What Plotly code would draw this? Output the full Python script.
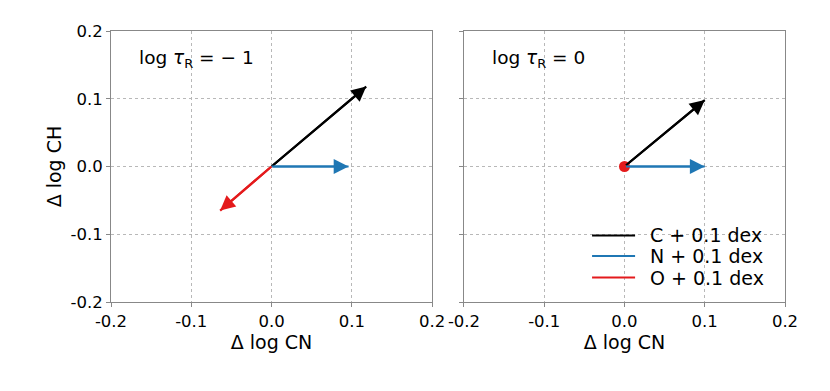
import plotly.graph_objects as go

# Data: change in (log CN, log CH) for +0.1 dex of each element
elements = ["C", "N", "O"]
legend_labels = ["C + 0.1 dex", "N + 0.1 dex", "O + 0.1 dex"]
colors = ["black", "#1f77b4", "#e41a1c"]

panel_titles = ["log <i>τ</i><sub>R</sub> = − 1", "log <i>τ</i><sub>R</sub> = 0"]
# panel 1: log tau_R = -1
dCN_p1 = [0.118, 0.096, -0.064]
dCH_p1 = [0.118, 0.0, -0.065]
# panel 2: log tau_R = 0
dCN_p2 = [0.100, 0.100, 0.0]
dCH_p2 = [0.098, 0.0, 0.0]

tick_vals = [-0.2, -0.1, 0.0, 0.1, 0.2]
tick_text = ["-0.2", "-0.1", "0.0", "0.1", "0.2"]

FONT = "DejaVu Sans"
fig = go.Figure()
annotations = []
shapes = []

panels = [(dCN_p1, dCH_p1, "x", "y"), (dCN_p2, dCH_p2, "x2", "y2")]
for pi, (dxs, dys, xa, ya) in enumerate(panels):
    for i, el in enumerate(elements):
        dx, dy = dxs[i], dys[i]
        fig.add_trace(go.Scatter(
            x=[0, dx], y=[0, dy], mode="lines",
            line=dict(color=colors[i], width=2.2),
            name=legend_labels[i], legendgroup=el,
            showlegend=False, xaxis=xa, yaxis=ya, hoverinfo="skip"))
        if dx == 0 and dy == 0:
            fig.add_trace(go.Scatter(
                x=[dx], y=[dy], mode="markers",
                marker=dict(color=colors[i], size=11),
                showlegend=False, xaxis=xa, yaxis=ya, hoverinfo="skip"))
        else:
            annotations.append(dict(
                x=dx, y=dy, ax=0, ay=0, xref=xa, yref=ya,
                axref=xa, ayref=ya, text="", showarrow=True,
                arrowhead=2, arrowsize=1.35, arrowwidth=2.2,
                arrowcolor=colors[i]))
    annotations.append(dict(
        x=0.08, y=0.895, xref=(xa + " domain"), yref=(ya + " domain"),
        xanchor="left", yanchor="middle", showarrow=False,
        text=panel_titles[pi], font=dict(family=FONT, size=18.5, color="black")))

# legend drawn in the right panel (lower right)
leg_rows = [0.2454, 0.1697, 0.0904]
for i, lab in enumerate(legend_labels):
    shapes.append(dict(type="line", xref="x2 domain", yref="y2 domain",
                       x0=0.399, x1=0.533, y0=leg_rows[i], y1=leg_rows[i],
                       line=dict(color=colors[i], width=2.2)))
    annotations.append(dict(x=0.573, y=leg_rows[i], xref="x2 domain", yref="y2 domain",
                            xanchor="left", yanchor="middle", showarrow=False,
                            text=lab, font=dict(family=FONT, size=19, color="black")))

axis_common = dict(
    range=[-0.2, 0.2], tickvals=tick_vals, ticktext=tick_text,
    showgrid=True, gridcolor="#b8b8b8", gridwidth=0.8, griddash="dot",
    showline=True, linecolor="#888888", linewidth=1, mirror=True,
    ticks="outside", ticklen=4, tickcolor="#888888",
    zeroline=False, tickfont=dict(family=FONT, size=16.5, color="black"),
    automargin=False,
)

fig.update_layout(
    width=830, height=391,
    margin=dict(l=103, r=53, t=23, b=97),
    plot_bgcolor="white", paper_bgcolor="white",
    font=dict(family=FONT, color="black"),
    xaxis=dict(domain=[0, 0.4763], anchor="y",
               title=dict(text="Δ log CN", font=dict(family=FONT, size=19), standoff=2),
               **axis_common),
    yaxis=dict(domain=[0, 1], anchor="x",
               title=dict(text="Δ log CH", font=dict(family=FONT, size=19), standoff=3),
               **axis_common),
    xaxis2=dict(domain=[0.5237, 1], anchor="y2",
                title=dict(text="Δ log CN", font=dict(family=FONT, size=19), standoff=2),
                **axis_common),
    yaxis2=dict(domain=[0, 1], anchor="x2", showticklabels=False, **axis_common),
    annotations=annotations,
    shapes=shapes,
    showlegend=False,
)

fig.write_html("out.html")
